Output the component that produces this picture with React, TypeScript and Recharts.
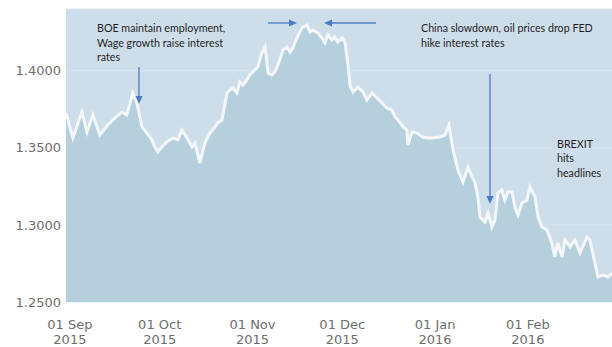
import { Area, AreaChart, CartesianGrid, XAxis, YAxis } from "recharts"

// days since 01 Sep 2015
const days = [
  -1.3, 1.0, 4.0, 5.7, 7.7, 10.0, 12.7, 15.0, 17.4, 19.0, 21.0, 22.4, 24.1, 25.7, 27.4, 28.4, 29.4, 30.7,
  32.4, 34.4, 36.1, 37.4, 39.1, 40.8, 41.8, 43.4, 45.1, 46.8, 48.4, 49.4, 50.8, 52.5, 53.5, 54.5, 55.8,
  56.8, 57.8, 59.1, 60.1, 61.8, 62.8, 64.1, 65.2, 66.2, 67.5, 68.5, 69.5, 71.2, 72.5, 73.5, 74.5, 75.8,
  76.8, 77.8, 79.2, 80.2, 81.2, 82.9, 84.2, 85.2, 86.2, 87.5, 88.5, 89.5, 90.9, 91.9, 92.9, 93.6, 94.6,
  96.2, 97.9, 99.2, 100.9, 102.6, 104.2, 105.9, 107.6, 108.6, 109.6, 111.3, 112.6, 112.9, 114.3, 115.9,
  117.9, 119.6, 121.3, 123.6, 125.3, 126.6, 128.0, 129.6, 131.3, 133.0, 134.3, 135.3, 136.3, 137.0,
  138.7, 139.7, 141.0, 142.0, 143.0, 144.3, 145.3, 146.3, 147.7, 148.7, 149.7, 151.0, 152.7, 153.7,
  155.4, 156.4, 157.7, 159.4, 161.0, 162.0, 163.0, 164.4, 165.4, 167.1, 168.7, 170.4, 172.7, 173.7,
  175.4, 176.4, 178.1, 179.8, 181.1,
]

// GBP/USD
const rates = [
  1.3726, 1.3564, 1.3732, 1.3602, 1.3713, 1.3583, 1.3648, 1.3693, 1.3732, 1.3713, 1.3855, 1.3791, 1.3635,
  1.3596, 1.3551, 1.3505, 1.3473, 1.3505, 1.3538, 1.3564, 1.3551, 1.3615, 1.3564, 1.3505, 1.3531, 1.3401,
  1.3531, 1.3596, 1.3635, 1.3661, 1.368, 1.3855, 1.3875, 1.3888, 1.3855, 1.3927, 1.3907, 1.394, 1.3972,
  1.4005, 1.4024, 1.4115, 1.4154, 1.3985, 1.3972, 1.3992, 1.4037, 1.4134, 1.4154, 1.4121, 1.4147, 1.4212,
  1.4251, 1.4283, 1.4296, 1.4251, 1.4264, 1.4244, 1.4212, 1.418, 1.4232, 1.4199, 1.4219, 1.4186, 1.4212,
  1.4186, 1.4037, 1.3901, 1.3862, 1.3894, 1.3862, 1.381, 1.3855, 1.3823, 1.3791, 1.3758, 1.3745, 1.37,
  1.368, 1.3635, 1.3615, 1.3518, 1.3602, 1.3596, 1.357, 1.3564, 1.3564, 1.357, 1.3583, 1.3648, 1.3486,
  1.3356, 1.3278, 1.3375, 1.3311, 1.3278, 1.3181, 1.3051, 1.3019, 1.3077, 1.2986, 1.3032, 1.3207, 1.3226,
  1.3161, 1.3213, 1.3213, 1.311, 1.3064, 1.3142, 1.3161, 1.3246, 1.3181, 1.3051, 1.2986, 1.2967, 1.2883,
  1.2792, 1.2883, 1.2792, 1.2902, 1.2857, 1.2902, 1.2818, 1.2922, 1.2902, 1.2753, 1.2662, 1.2675, 1.2662,
  1.2688,
]

const tickDays = [0, 30, 61, 91, 122, 153]
const tickMonths = ["01 Sep", "01 Oct", "01 Nov", "01 Dec", "01 Jan", "01 Feb"]
const tickYears = ["2015", "2015", "2015", "2015", "2016", "2016"]
const yTicks = [1.25, 1.3, 1.35, 1.4]

const data = days.map((d, i) => ({ day: d, rate: rates[i] }))

const axisFont = "DejaVu Sans"
const noteFont = "Lato"

function DateTick(props: any) {
  const { x, y, payload } = props
  const i = tickDays.indexOf(payload.value)
  return (
    <text x={x} y={y} textAnchor="middle" fill="#6e6e6e" fontSize={13} fontFamily={axisFont}>
      <tspan x={x} dy={27}>{tickMonths[i]}</tspan>
      <tspan x={x} dy={15}>{tickYears[i]}</tspan>
    </text>
  )
}

function Notes() {
  const blue = "#4a7cc1"
  return (
    <svg width={612} height={347} style={{ position: "absolute", left: 0, top: 0, pointerEvents: "none" }}>
      <g fill="#1f1f1f" fontSize={10.7} fontFamily={noteFont}>
        <text x={97} y={32}>BOE maintain employment,</text>
        <text x={97} y={47}>Wage growth raise interest</text>
        <text x={97} y={61}>rates</text>
        <text x={421} y={32}>China slowdown, oil prices drop FED</text>
        <text x={421} y={47}>hike interest rates</text>
        <text x={557} y={148}>BREXIT</text>
        <text x={557} y={162}>hits</text>
        <text x={557} y={177}>headlines</text>
      </g>
      <g stroke={blue} strokeWidth={1.3}>
        <line x1={139} y1={67} x2={139} y2={97} />
        <line x1={268} y1={23} x2={290} y2={23} />
        <line x1={376} y1={23} x2={331} y2={23} />
        <line x1={490} y1={74} x2={490} y2={197} />
      </g>
      <g fill={blue}>
        <polygon points="135.5,96 142.5,96 139,104" />
        <polygon points="289,19.5 289,26.5 297,23" />
        <polygon points="332,19.5 332,26.5 324,23" />
        <polygon points="486.5,196 493.5,196 490,204" />
      </g>
    </svg>
  )
}

export default function App() {
  return (
    <div style={{ position: "absolute", left: 0, top: 0, width: 612, height: 347, background: "#fff" }}>
      <AreaChart width={612} height={347} data={data} margin={{ top: 9, right: 0, bottom: 0, left: 0 }}>
        <CartesianGrid vertical={false} fill="#cddeea" stroke="#d6e4ee" strokeWidth={1} />
        <XAxis
          dataKey="day"
          type="number"
          domain={[-1.3, 181.1]}
          allowDataOverflow
          ticks={tickDays}
          tick={<DateTick />}
          axisLine={false}
          tickLine={false}
          tickSize={0}
          tickMargin={0}
          height={45}
          interval={0}
        />
        <YAxis
          type="number"
          domain={[1.25, 1.44]}
          allowDataOverflow
          ticks={yTicks}
          tickFormatter={(v: number) => v.toFixed(4)}
          tick={{ fill: "#6e6e6e", fontSize: 13, fontFamily: axisFont }}
          axisLine={false}
          tickLine={false}
          tickSize={0}
          tickMargin={5}
          width={66}
        />
        <Area
          type="linear"
          dataKey="rate"
          stroke="#f3f7fa"
          strokeWidth={3}
          fill="#b5cfdc"
          fillOpacity={1}
          isAnimationActive={false}
          dot={false}
          activeDot={false}
        />
      </AreaChart>
      <Notes />
    </div>
  )
}
